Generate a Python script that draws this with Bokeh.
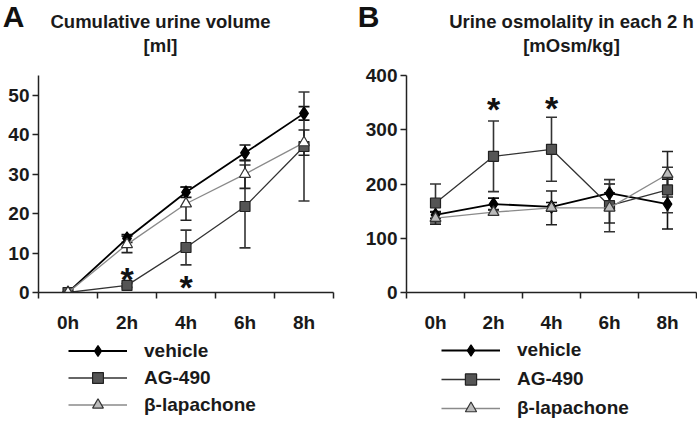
from bokeh.plotting import figure
from bokeh.models import (ColumnDataSource, Whisker, TeeHead, Range1d, FixedTicker,
                          Legend, LegendItem)
from bokeh.layouts import row, column
from bokeh.embed import file_html
from bokeh.resources import INLINE
from bokeh.core.properties import value

# ---------------- data ----------------
times = ["0h", "2h", "4h", "6h", "8h"]
xpos = [0, 1, 2, 3, 4]
series_names = ["vehicle", "AG-490", "β-lapachone"]

# Panel A: cumulative urine volume [ml]
vol_vehicle = [0, 13.7, 25.4, 35.4, 45.4]
vol_vehicle_err = [0, 1.0, 1.3, 2.0, 1.7]
vol_ag = [0, 1.8, 11.4, 21.8, 37.0]
vol_ag_err = [0, 0.5, 4.4, 10.5, 13.8]
vol_lap = [0, 12.2, 22.5, 30.0, 38.0]
vol_lap_err = [0, 2.1, 4.2, 3.6, 3.2]
vol_ticks = [0, 10, 20, 30, 40, 50]
vol_star_x = [1, 2]
vol_star_y = [5.6, 3.8]

# Panel B: urine osmolality in each 2 h [mOsm/kg]
osm_vehicle = [143, 163, 158, 183, 163]
osm_vehicle_err = [6, 11, 8, 17, 46]
osm_ag = [165, 251, 264, 160, 189]
osm_ag_err = [35, 65, 59, 48, 42]
osm_lap = [137, 148, 156, 156, 218]
osm_lap_err = [11, 5, 31, 28, 42]
osm_ticks = [0, 100, 200, 300, 400]
osm_star_x = [1, 2]
osm_star_y = [354, 357]

FONT = "Liberation Sans"
HEADER_H = 57
PLOT_H = 278
FOOTER_H = 87

STYLES = [
    dict(line_color="#000000", line_width=1.8, marker="diamond", size=13,
         mline="#000000", wcol="#111111", lfill="#000000"),
    dict(line_color="#333333", line_width=1.3, marker="square", size=10,
         mline="#222222", wcol="#333333", lfill="#555555"),
    dict(line_color="#8a8a8a", line_width=1.3, marker="triangle", size=11,
         mline="#333333", wcol="#222222", lfill="#bbbbbb"),
]


def blank_fig(width, height):
    # ranges far away from the data so that legend-only renderers stay off-canvas
    f = figure(width=width, height=height, output_backend="svg", toolbar_location=None,
               x_range=Range1d(1000, 1000 + width), y_range=Range1d(1000, 1000 + height),
               x_axis_type=None, y_axis_type=None, min_border=0)
    f.outline_line_color = None
    f.grid.grid_line_color = None
    return f


def make_header(width, letter, letter_xy, title_lines, title_x, title_ys):
    h = blank_fig(width, HEADER_H)
    h.text(x=[1000 + letter_xy[0]], y=[1000 + letter_xy[1]], text=[letter], text_font=value(FONT),
           text_font_style="bold", text_font_size="30px", text_align="center",
           text_baseline="middle", text_color="#111111")
    h.text(x=[1000 + title_x] * len(title_lines), y=[1000 + t for t in title_ys], text=title_lines,
           text_font=value(FONT), text_font_style="bold", text_font_size="18.5px",
           text_align="center", text_baseline="middle", text_color="#1a1a1a")
    return h


def make_footer(width, data, legend_loc, legend_h, legend_spacing):
    f = blank_fig(width, FOOTER_H)
    items = []
    for name, st, (yv, _) in zip(series_names, STYLES, data):
        ln = f.line(x=xpos, y=yv, line_color=st["line_color"], line_width=st["line_width"])
        mk = f.scatter(x=xpos, y=yv, marker=st["marker"], fill_color=st["lfill"],
                       line_color=st["mline"], line_width=1.2)
        items.append(LegendItem(label=name, renderers=[ln, mk]))
    legend = Legend(items=items, location=legend_loc, orientation="vertical",
                    glyph_width=59, glyph_height=legend_h, label_height=20,
                    spacing=legend_spacing, padding=0, margin=0, label_standoff=17,
                    label_text_font=FONT, label_text_font_style="bold",
                    label_text_font_size="19px", label_text_color="#1a1a1a",
                    border_line_color=None, background_fill_alpha=0)
    f.add_layout(legend)
    return f


def make_panel(width, min_left, min_right, frame_top, ymax, ticks, data, stars, lap_fill):
    p = figure(width=width, height=PLOT_H, output_backend="svg", toolbar_location=None,
               x_range=Range1d(-0.5, 4.5), y_range=Range1d(0, ymax),
               min_border_left=min_left, min_border_right=min_right,
               min_border_top=frame_top, min_border_bottom=43)
    p.outline_line_color = None
    p.grid.grid_line_color = None

    fills = ["#000000", "#555555", lap_fill]
    for (yv, ye), st, fc in zip(data, STYLES, fills):
        src = ColumnDataSource(dict(x=xpos, y=yv,
                                    upper=[a + b for a, b in zip(yv, ye)],
                                    lower=[a - b for a, b in zip(yv, ye)]))
        p.line("x", "y", source=src, line_color=st["line_color"], line_width=st["line_width"])
        p.add_layout(Whisker(source=src, base="x", upper="upper", lower="lower",
                             line_color=st["wcol"], line_width=1.6,
                             upper_head=TeeHead(size=11, line_color=st["wcol"], line_width=1.6),
                             lower_head=TeeHead(size=11, line_color=st["wcol"], line_width=1.6)))
        p.scatter("x", "y", source=src, marker=st["marker"], size=st["size"],
                  fill_color=fc, line_color=st["mline"], line_width=1.2)

    p.text(x=stars[0], y=stars[1], text=["*"] * len(stars[0]),
           text_font=value(FONT), text_font_style="bold", text_font_size="34px",
           text_align="center", text_baseline="middle", y_offset=9, text_color="#111111")

    p.xaxis.ticker = FixedTicker(ticks=xpos, minor_ticks=[x - 0.5 for x in xpos] + [xpos[-1] + 0.5])
    p.xaxis.major_label_overrides = dict(zip(xpos, times))
    p.xaxis.major_tick_line_color = None
    p.xaxis.major_tick_out = 0
    p.xaxis.major_tick_in = 0
    p.xaxis.minor_tick_out = 6
    p.xaxis.minor_tick_in = 0
    p.xaxis.minor_tick_line_color = "#222222"
    p.xaxis.minor_tick_line_width = 1.5
    p.xaxis.major_label_standoff = 13

    p.yaxis.ticker = FixedTicker(ticks=ticks)
    p.yaxis.minor_tick_line_color = None
    p.yaxis.major_tick_out = 6
    p.yaxis.major_tick_in = 0
    p.yaxis.major_tick_line_width = 1.5
    p.yaxis.major_tick_line_color = "#222222"
    p.yaxis.major_label_standoff = 3

    for ax in (p.xaxis, p.yaxis):
        ax.axis_line_color = "#222222"
        ax.axis_line_width = 1.5
        ax.major_label_text_font = FONT
        ax.major_label_text_font_style = "bold"
        ax.major_label_text_font_size = "19px"
        ax.major_label_text_color = "#1a1a1a"
    return p


vol_data = [(vol_vehicle, vol_vehicle_err), (vol_ag, vol_ag_err), (vol_lap, vol_lap_err)]
osm_data = [(osm_vehicle, osm_vehicle_err), (osm_ag, osm_ag_err), (osm_lap, osm_lap_err)]

hA = make_header(345, "A", (13, 41), ["Cumulative urine volume", "[ml]"], 160, [36, 12])
hB = make_header(352, "B", (23, 41), ["Urine osmolality in each 2 h", "[mOsm/kg]"], 226, [36, 12])

pA = make_panel(345, 38, 12, 18, 55, vol_ticks, vol_data, (vol_star_x, vol_star_y), "white")
pB = make_panel(352, 61, 1, 17, 400, osm_ticks, osm_data, (osm_star_x, osm_star_y), "#bbbbbb")

fA = make_footer(345, vol_data, (68, 4), 27, 0)
fB = make_footer(352, osm_data, (96, 0), 28, 1)

layout = column(row(hA, hB), row(pA, pB), row(fA, fB))
open("out.html", "w").write(file_html(layout, INLINE))
